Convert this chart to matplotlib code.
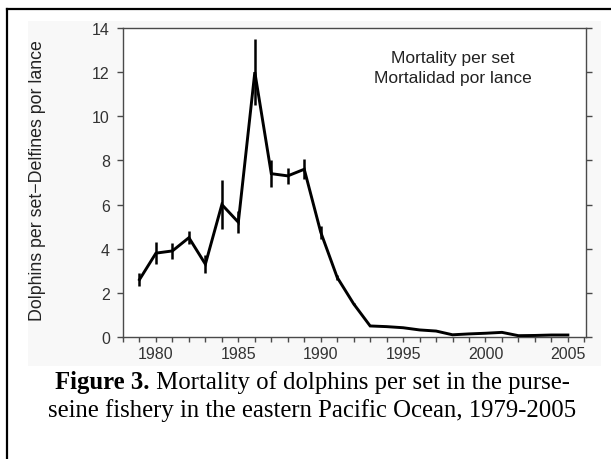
import matplotlib
matplotlib.use("Agg")
import matplotlib.pyplot as plt
from matplotlib.patches import Rectangle
from matplotlib.lines import Line2D
from matplotlib.ticker import MultipleLocator

years = list(range(1979, 2006))
mortality = [2.6, 3.8, 3.9, 4.5, 3.3, 6.0, 5.2, 12.0, 7.4, 7.3, 7.6, 4.75, 2.7,
             1.5, 0.5, 0.47, 0.42, 0.32, 0.27, 0.1, 0.14, 0.17, 0.21, 0.06, 0.07, 0.09, 0.09]
errors = [0.3, 0.5, 0.35, 0.3, 0.4, 1.1, 0.5, 1.5, 0.6, 0.35, 0.45, 0.3, 0.1,
          0.05, 0, 0, 0, 0, 0, 0, 0, 0, 0, 0, 0, 0, 0]
xtick_labels = [1980, 1985, 1990, 1995, 2000, 2005]
yticks = [0, 2, 4, 6, 8, 10, 12, 14]

W, H = 611, 460
fig = plt.figure(figsize=(W / 100, H / 100), dpi=100)
fig.patch.set_facecolor("white")

# light background box around chart
fig.add_artist(Rectangle((28 / W, 1 - 367 / H), (601 - 28) / W, (367 - 22) / H,
                         transform=fig.transFigure, facecolor="#f8f8f8",
                         edgecolor="none", zorder=0))
# outer border (left and top visible)
fig.add_artist(Line2D([7 / W, 7 / W], [0, 1 - 10 / H], transform=fig.transFigure,
                      color="black", lw=1.6))
fig.add_artist(Line2D([7 / W, 1], [1 - 10 / H, 1 - 10 / H], transform=fig.transFigure,
                      color="black", lw=1.6))

ax = fig.add_axes([123 / W, 1 - 338 / H, (586 - 123) / W, (338 - 29) / H])
ax.set_facecolor("white")
ax.plot(years, mortality, color="black", lw=2.1, solid_joinstyle="miter", zorder=3)
ax.errorbar(years, mortality, yerr=errors, fmt="none", ecolor="black",
            elinewidth=1.8, capsize=0, zorder=3)

ax.set_xlim(1978, 2006.1)
ax.set_ylim(0, 14)
ax.set_xticks(xtick_labels)
ax.xaxis.set_minor_locator(MultipleLocator(1))
ax.set_yticks(yticks)
for s in ax.spines.values():
    s.set_color("#4a4a4a")
    s.set_linewidth(1.0)
ax.tick_params(axis="x", which="both", direction="out", length=3.8, width=1.0,
               color="#4a4a4a", labelsize=11.5, labelcolor="#333333", pad=3)
ax.tick_params(axis="y", which="both", direction="out", length=4.5, width=1.0,
               color="#4a4a4a", labelsize=11.5, labelcolor="#333333",
               right=True, labelright=False, pad=5)
for lab in ax.get_xticklabels() + ax.get_yticklabels():
    lab.set_fontfamily("Liberation Sans")

ax.set_ylabel("Dolphins per set\u2212Delfines por lance", fontsize=12.8,
              family="Liberation Sans", color="#222222")
ax.yaxis.set_label_coords(-(123 - 46) / 463, 0.51)
ax.text(0.713, 0.8715, "Mortality per set\nMortalidad por lance", transform=ax.transAxes,
        ha="center", va="center", fontsize=12.5, family="Liberation Sans",
        color="#222222", linespacing=1.4)

# caption with bold lead
cap_size = 17.8
fig.canvas.draw()
r = fig.canvas.get_renderer()
def centered_line(y_px, bold_part, rest):
    t1 = fig.text(0, 1 - y_px / H, bold_part, fontsize=cap_size, family="Liberation Serif",
                  weight="bold", va="center", ha="left")
    t2 = fig.text(0, 1 - y_px / H, rest, fontsize=cap_size, family="Liberation Serif",
                  va="center", ha="left")
    w1 = t1.get_window_extent(r).width if bold_part else 0
    w2 = t2.get_window_extent(r).width
    total = w1 + w2
    x0 = 312.5 - total / 2
    t1.set_x(x0 / W)
    t2.set_x((x0 + w1) / W)

centered_line(383, "Figure 3.", " Mortality of dolphins per set in the purse-")
centered_line(411, "", "seine fishery in the eastern Pacific Ocean, 1979-2005")

fig.savefig("out.png", dpi=100)
